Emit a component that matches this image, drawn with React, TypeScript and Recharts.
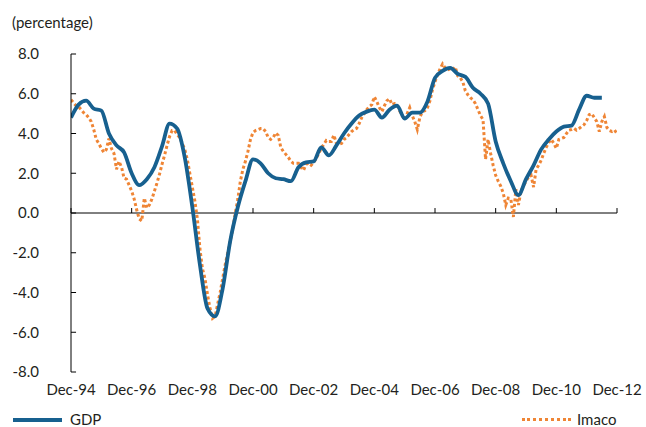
import { LineChart, Line, XAxis, YAxis, ReferenceLine } from 'recharts';

// months since Dec-94 for the x ticks
const X_TICKS = [0, 24, 48, 72, 96, 120, 144, 168, 192, 216];
const X_LABELS = ['Dec-94', 'Dec-96', 'Dec-98', 'Dec-00', 'Dec-02', 'Dec-04', 'Dec-06', 'Dec-08', 'Dec-10', 'Dec-12'];
const Y_TICKS = [-8, -6, -4, -2, 0, 2, 4, 6, 8];

// GDP growth, quarterly (Dec-94 .. Jun-12)
const GDP = [
  4.8, 5.45, 5.65, 5.25, 5.15, 4.0, 3.4, 3.05, 2.0, 1.4, 1.7, 2.3, 3.35, 4.5, 4.25, 2.8,
  0.3, -2.6, -4.8, -5.2, -3.8, -1.4, 0.3, 1.6, 2.7, 2.5, 2.0, 1.75, 1.7, 1.6, 2.3, 2.55,
  2.6, 3.3, 2.9, 3.4, 4.0, 4.5, 4.9, 5.1, 5.2, 4.8, 5.2, 5.4, 4.75, 5.05, 5.05, 5.6,
  6.8, 7.15, 7.3, 7.0, 6.85, 6.3, 6.0, 5.5, 3.6, 2.5, 1.6, 0.9, 1.7, 2.4, 3.2, 3.7,
  4.1, 4.35, 4.4, 5.2, 5.9, 5.8, 5.8,
];

// Imaco, monthly (Dec-94 .. Dec-12)
const IMACO = [
  5.7, 5.55, 5.4, 5.35, 5.2, 5.05, 4.95, 4.8, 4.6, 4.2, 3.7, 3.5, 3.25, 3.05, 3.2, 3.75,
  3.25, 3.0, 2.2, 2.6, 2.3, 1.75, 1.7, 1.4, 1.1, 0.7, 0.15, -0.3, -0.4, 0.75, 0.25, 0.4,
  0.7, 1.1, 1.5, 1.95, 2.45, 2.9, 3.4, 3.85, 4.15, 4.15, 3.95, 3.8, 3.5, 3.2, 2.7, 2.0,
  1.3, 0.6, -0.3, -1.8, -2.8, -3.3, -4.1, -4.8, -5.3, -5.2, -4.6, -4.0, -3.3, -2.6, -2.0, -1.4,
  -0.8, 0.0, 0.7, 1.6, 2.2, 2.6, 3.1, 3.7, 4.05, 4.15, 4.2, 4.25, 4.25, 4.1, 3.8, 3.7,
  3.8, 4.03, 3.9, 3.3, 3.1, 2.95, 2.8, 2.6, 2.5, 2.5, 2.5, 2.3, 2.15, 2.45, 2.5, 2.4,
  2.55, 2.75, 3.0, 3.25, 3.45, 3.65, 3.6, 3.6, 3.92, 3.5, 3.45, 3.5, 3.7, 3.8, 3.95, 4.1,
  4.2, 4.26, 4.5, 4.8, 5.0, 5.2, 5.35, 5.45, 5.85, 5.6, 5.3, 5.1, 5.4, 5.65, 5.75, 5.45,
  5.5, 5.45, 5.15, 4.9, 4.7, 5.0, 5.3, 4.9, 4.6, 4.2, 4.8, 5.1, 5.15, 5.3, 5.65, 6.2,
  6.6, 6.95, 7.25, 7.5, 7.3, 7.2, 7.25, 7.2, 7.35, 6.9, 6.8, 6.6, 6.15, 5.95, 5.8, 5.7,
  5.5, 5.2, 4.9, 4.7, 2.7, 3.7, 3.0, 2.4, 1.9, 1.6, 1.35, 1.0, 0.4, 0.75, 0.7, -0.2,
  1.2, 0.4, 1.1, 1.35, 1.6, 1.8, 1.9, 1.3, 2.2, 2.4, 2.65, 3.0, 3.3, 3.55, 3.7, 3.5,
  3.25, 3.7, 3.75, 3.8, 4.0, 4.17, 4.2, 4.26, 4.17, 4.25, 4.35, 4.45, 4.65, 4.95, 5.0, 4.8,
  4.6, 4.1, 4.6, 4.85, 4.3, 4.15, 4.1, 4.17, 4.0,
];

const BLUE = '#17608f';
const ORANGE = '#ef8535';
const TEXT = '#231f20';
const FONT = 'Lato, "Open Sans", sans-serif';
const FS = 15;

const gdpData = GDP.map((v, i) => ({ t: i * 3, gdp: v }));
const imacoData = IMACO.map((v, i) => ({ t: i, imaco: v }));

export default function App() {
  return (
    <div style={{ position: 'absolute', left: 0, top: 0, width: 646, height: 427, background: '#fff', fontFamily: FONT }}>
      <div style={{ position: 'absolute', left: 12, top: 13, fontSize: FS, color: TEXT }}>(percentage)</div>
      <LineChart width={646} height={427} margin={{ top: 54, right: 29, left: 0, bottom: 25 }}>
        <XAxis
          type="number"
          dataKey="t"
          domain={[0, 216]}
          ticks={X_TICKS}
          tickFormatter={(v) => X_LABELS[X_TICKS.indexOf(v)] ?? ''}
          axisLine={false}
          tickLine={false}
          tickSize={0}
          tickMargin={12}
          height={30}
          tick={{ fill: TEXT, fontSize: FS, fontFamily: FONT }}
          allowDataOverflow
        />
        <YAxis
          domain={[-8, 8]}
          ticks={Y_TICKS}
          tickFormatter={(v) => v.toFixed(1)}
          axisLine={{ stroke: '#000', strokeWidth: 1 }}
          tickLine={false}
          tickSize={0}
          tickMargin={32}
          width={71}
          tick={{ fill: TEXT, fontSize: FS, fontFamily: FONT }}
          allowDataOverflow
        />
        <ReferenceLine y={0} stroke="#000" strokeWidth={1} />
        {Y_TICKS.map((v) => (
          <ReferenceLine key={'y' + v} segment={[{ x: 0, y: v }, { x: 2, y: v }]} stroke="#000" strokeWidth={1} />
        ))}
        {X_TICKS.map((t) => (
          <ReferenceLine key={'x' + t} segment={[{ x: t, y: 0 }, { x: t, y: 0.25 }]} stroke="#000" strokeWidth={1} />
        ))}
        <Line
          data={imacoData}
          dataKey="imaco"
          type="linear"
          stroke={ORANGE}
          strokeWidth={3}
          strokeDasharray="3 2.5"
          dot={false}
          isAnimationActive={false}
        />
        <Line
          data={gdpData}
          dataKey="gdp"
          type="monotone"
          stroke={BLUE}
          strokeWidth={3.8}
          dot={false}
          isAnimationActive={false}
        />
      </LineChart>
      <div style={{ position: 'absolute', left: 13, top: 418, width: 49, height: 4, background: BLUE }} />
      <div style={{ position: 'absolute', left: 70, top: 410, fontSize: FS, color: TEXT }}>GDP</div>
      <div style={{ position: 'absolute', left: 522, top: 418, width: 49, height: 0, borderTop: `3px dotted ${ORANGE}` }} />
      <div style={{ position: 'absolute', left: 577, top: 410, fontSize: FS, color: TEXT }}>Imaco</div>
    </div>
  );
}
